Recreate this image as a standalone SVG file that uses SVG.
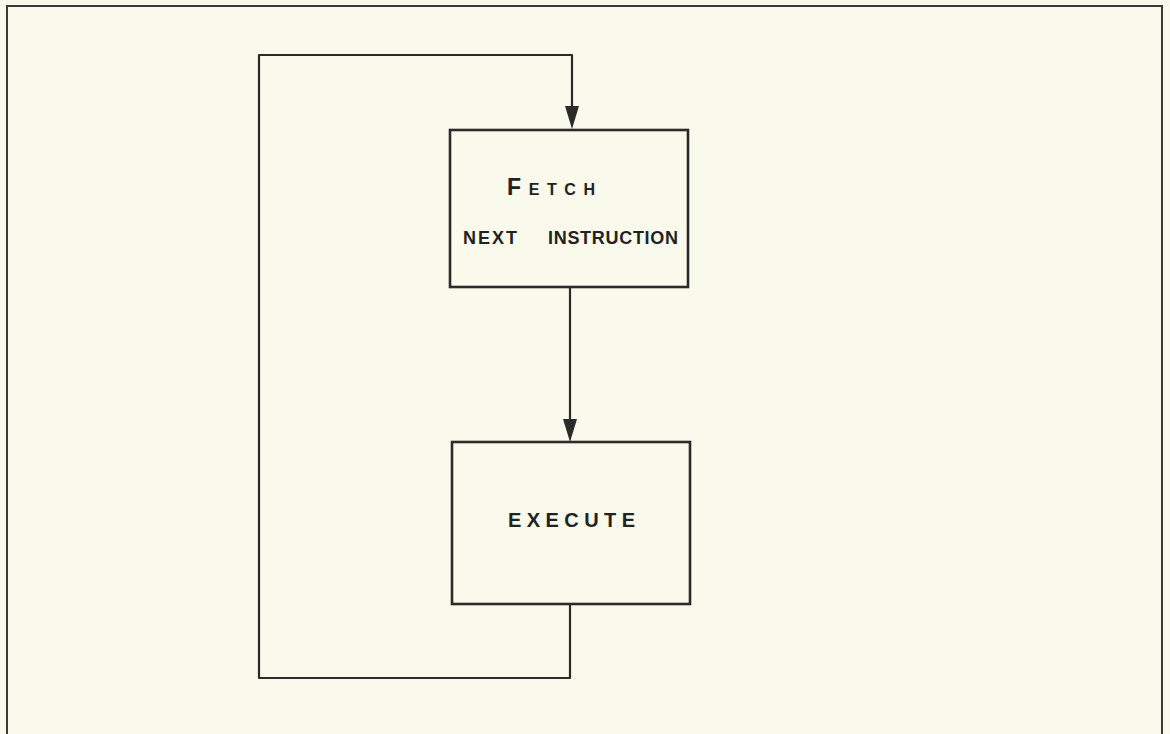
<svg xmlns="http://www.w3.org/2000/svg" width="1170" height="734" viewBox="0 0 1170 734">
  <style>
    .box { fill: none; stroke: #2b2b2b; stroke-width: 2.6; }
    .conn { fill: none; stroke: #2b2b2b; stroke-width: 2.2; stroke-linejoin: round; }
    .frame { fill: none; stroke: #3a3a3a; stroke-width: 2; }
    .lbl { font-family: "Liberation Sans", Arial, sans-serif; fill: #222222; font-weight: bold; }
  </style>
  <rect x="0" y="0" width="1170" height="734" fill="#f9f9ec"/>
  <path class="frame" d="M7,734 L7,6 L1162,6 L1162,734"/>
  <g id="connectors">
    <path class="conn" d="M570,605 L570,678 L259,678 L259,55 L572,55 L572,107"/>
    <path d="M565,106 L579,106 L572,129 Z" fill="#2b2b2b"/>
    <path class="conn" d="M570,288 L570,420"/>
    <path d="M563,419 L577,419 L570,442 Z" fill="#2b2b2b"/>
  </g>
  <g id="fetch">
    <rect class="box" x="450" y="130" width="238" height="157"/>
    <text class="lbl" x="507" y="195" font-size="16" textLength="88" lengthAdjust="spacing"><tspan font-size="23">F</tspan>ETCH</text>
    <text class="lbl" x="463" y="244" font-size="18" textLength="54" lengthAdjust="spacing">NEXT</text>
    <text class="lbl" x="548" y="244" font-size="18" textLength="130" lengthAdjust="spacing">INSTRUCTION</text>
  </g>
  <g id="execute">
    <rect class="box" x="452" y="442" width="238" height="162"/>
    <text class="lbl" x="508" y="527" font-size="20" textLength="127" lengthAdjust="spacing">EXECUTE</text>
  </g>
</svg>
